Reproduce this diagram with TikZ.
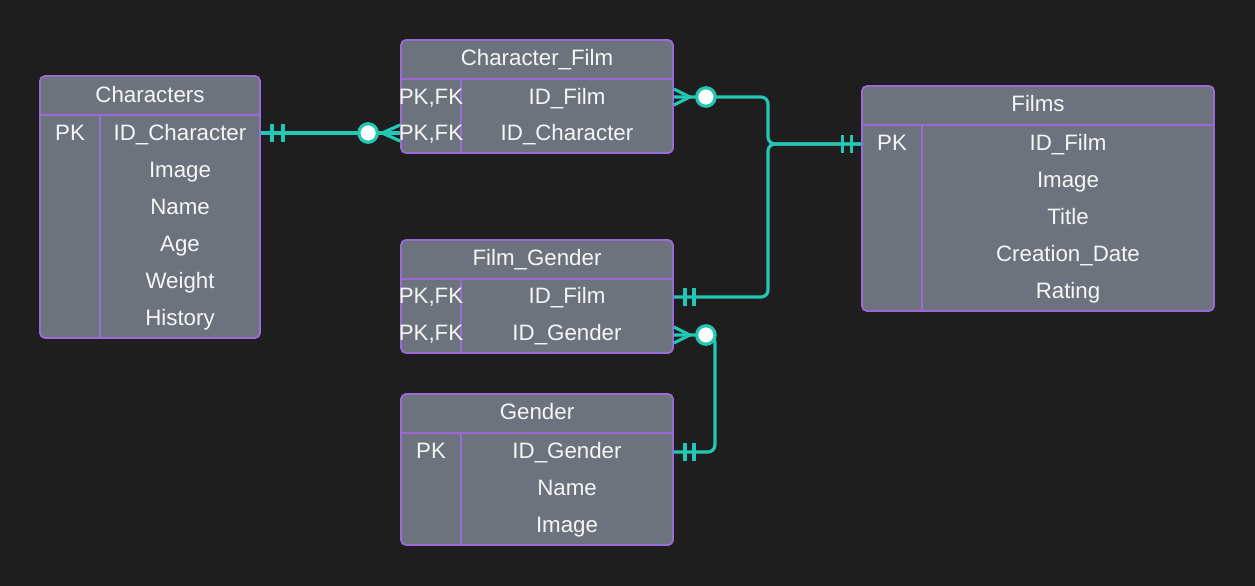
\documentclass[tikz,border=0pt]{standalone}
\usepackage{fontspec}
\setmainfont{Liberation Sans}
\usetikzlibrary{calc}
\definecolor{bgc}{HTML}{1E1E1E}
\definecolor{boxc}{HTML}{6C737D}
\definecolor{brd}{HTML}{9B6AD6}
\definecolor{teal}{HTML}{22C7B5}
\definecolor{txt}{HTML}{F6F6F6}
\tikzset{
  tbl/.style={draw=brd, fill=boxc, line width=1.8pt, rounded corners=5pt, inner sep=0pt},
  sep/.style={draw=brd, line width=1.8pt},
  lbl/.style={font=\fontsize{22.3}{26}\selectfont, text=txt, anchor=center, text height=17.6pt, text depth=0pt, inner sep=0pt},
  rel/.style={draw=teal, line width=3.2pt, rounded corners=7pt},
  tick/.style={draw=teal, line width=3.2pt},
  circ/.style={draw=teal, fill=white, line width=3.2pt, circle, minimum size=18.5pt, inner sep=0pt}
}
\begin{document}
\begin{tikzpicture}[x=1pt,y=-1pt]
\fill[bgc] (0,0) rectangle (1255,586);
\useasboundingbox (0,0) rectangle (1255,586);

% ---------- Characters ----------
\node[tbl, minimum width=220pt, minimum height=262pt] (chr) at (150,207) {};
\draw[sep] (40,115) -- (260,115);
\draw[sep] (100,115) -- (100,338);
\node[lbl] (chrh) at (150,94) {Characters};
\node[lbl] (chrk) at (70,132) {PK};
\node[lbl] (chr1) at (180,132) {ID\_Character};
\node[lbl] (chr2) at (180,169) {Image};
\node[lbl] (chr3) at (180,206) {Name};
\node[lbl] (chr4) at (180,243) {Age};
\node[lbl] (chr5) at (180,280) {Weight};
\node[lbl] (chr6) at (180,317) {History};

% ---------- Character_Film ----------
\node[tbl, minimum width=272pt, minimum height=113pt] (cf) at (537,96.5) {};
\draw[sep] (401,79) -- (673,79);
\draw[sep] (461,79) -- (461,153);
\node[lbl] (cfh) at (537,57) {Character\_Film};
\node[lbl] (cfk1) at (431,96) {PK,FK};
\node[lbl] (cfk2) at (431,132) {PK,FK};
\node[lbl] (cf1) at (567,96) {ID\_Film};
\node[lbl] (cf2) at (567,132) {ID\_Character};

% ---------- Films ----------
\node[tbl, minimum width=352pt, minimum height=225pt] (fi) at (1038,198.5) {};
\draw[sep] (862,125) -- (1214,125);
\draw[sep] (922,125) -- (922,311);
\node[lbl] (fih) at (1038,103) {Films};
\node[lbl] (fik) at (892,142) {PK};
\node[lbl] (fi1) at (1068,142) {ID\_Film};
\node[lbl] (fi2) at (1068,179) {Image};
\node[lbl] (fi3) at (1068,216) {Title};
\node[lbl] (fi4) at (1068,253) {Creation\_Date};
\node[lbl] (fi5) at (1068,290) {Rating};

% ---------- Film_Gender ----------
\node[tbl, minimum width=272pt, minimum height=113pt] (fg) at (537,296.5) {};
\draw[sep] (401,279) -- (673,279);
\draw[sep] (461,279) -- (461,353);
\node[lbl] (fgh) at (537,257) {Film\_Gender};
\node[lbl] (fgk1) at (431,295) {PK,FK};
\node[lbl] (fgk2) at (431,332) {PK,FK};
\node[lbl] (fg1) at (567,295) {ID\_Film};
\node[lbl] (fg2) at (567,332) {ID\_Gender};

% ---------- Gender ----------
\node[tbl, minimum width=272pt, minimum height=151pt] (ge) at (537,469.5) {};
\draw[sep] (401,433) -- (673,433);
\draw[sep] (461,433) -- (461,545);
\node[lbl] (geh) at (537,411) {Gender};
\node[lbl] (gek) at (431,450) {PK};
\node[lbl] (ge1) at (567,450) {ID\_Gender};
\node[lbl] (ge2) at (567,487) {Name};
\node[lbl] (ge3) at (567,524) {Image};

% ---------- connector endpoints ----------
\coordinate (a1) at ($(chr.east |- chr1)+(0,1)$);
\coordinate (a2) at ($(cf.west |- cf2)+(0,1)$);
\coordinate (b1) at ($(cf.east |- cf1)+(0,1)$);
\coordinate (b2) at ($(fi.west |- fi1)+(0,2)$);
\coordinate (jn) at ($(768,0 |- b2)$);
\coordinate (c1) at ($(fg.east |- fg1)+(0,2)$);
\coordinate (d1) at ($(fg.east |- fg2)+(0,3)$);
\coordinate (d2) at ($(ge.east |- ge1)+(0,2)$);

% Characters -- Character_Film
\draw[rel] (a1) -- (a2);
\draw[tick] ($(a1)+(11,-9)$) -- ($(a1)+(11,9)$);
\draw[tick] ($(a1)+(22,-9)$) -- ($(a1)+(22,9)$);
\draw[tick] ($(a2)+(-18,0)$) -- ($(a2)+(0,-8)$);
\draw[tick] ($(a2)+(-18,0)$) -- ($(a2)+(0,8)$);
\node[circ] (o1) at ($(a2)+(-32,0)$) {};

% Character_Film -- Films
\draw[rel] (b1) -- (jn |- b1) -- (jn) -- (b2);
\draw[tick] ($(b1)+(16,0)$) -- ($(b1)+(0,-8)$);
\draw[tick] ($(b1)+(16,0)$) -- ($(b1)+(0,8)$);
\node[circ] (o2) at ($(b1)+(32,0)$) {};
\draw[tick] ($(b2)+(-19,-9)$) -- ($(b2)+(-19,9)$);
\draw[tick] ($(b2)+(-10,-9)$) -- ($(b2)+(-10,9)$);

% Film_Gender -- Films
\draw[rel] (c1) -- (jn |- c1) -- (jn) -- (b2);
\draw[tick] ($(c1)+(11,-9)$) -- ($(c1)+(11,9)$);
\draw[tick] ($(c1)+(20,-9)$) -- ($(c1)+(20,9)$);

% Film_Gender -- Gender
\draw[rel] (d1) -- ($(d1)+(41,0)$) -- ($(d2)+(41,0)$) -- (d2);
\draw[tick] ($(d1)+(16,0)$) -- ($(d1)+(0,-8)$);
\draw[tick] ($(d1)+(16,0)$) -- ($(d1)+(0,8)$);
\node[circ] (o3) at ($(d1)+(32,0)$) {};
\draw[tick] ($(d2)+(11,-9)$) -- ($(d2)+(11,9)$);
\draw[tick] ($(d2)+(20,-9)$) -- ($(d2)+(20,9)$);
\end{tikzpicture}
\end{document}
